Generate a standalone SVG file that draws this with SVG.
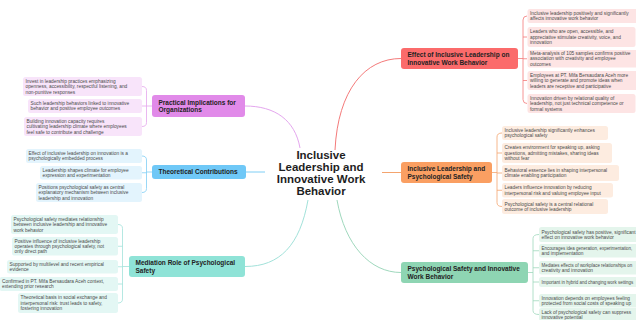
<svg xmlns="http://www.w3.org/2000/svg" width="636" height="320" viewBox="0 0 636 320">
<style>
text{font-family:"Liberation Sans",Arial,sans-serif}
.title{font-size:11.5px;font-weight:bold;fill:#1e1e1e;text-anchor:middle}
.mt{font-size:6.5px;font-weight:bold;fill:#222}
.lt{font-size:4.8px;fill:#4a4a4a}
.sm{font-size:4.45px}
.c{fill:none;stroke-width:1}
.b{fill:none;stroke-width:0.8}
.red{stroke:#f47a7a}.ora{stroke:#f4a46e}.grn{stroke:#9fd8bd}.pur{stroke:#e4a6ee}.blu{stroke:#7fcef5}.tea{stroke:#a2e2da}
.nred{fill:#fb6b6b}.nora{fill:#fa9f62}.ngrn{fill:#8ed5b3}.npur{fill:#e18ae9}.nblu{fill:#6fc8f7}.ntea{fill:#8fe3d7}
.lred{fill:#fde4e4}.lora{fill:#fdece0}.lgrn{fill:#e4f5ec}.lpur{fill:#f8e4fa}.lblu{fill:#e3f4fd}.ltea{fill:#e3f7f4}
</style>
<rect width="636" height="320" fill="#ffffff"/>
<g id="connectors">
<path class="c red" d="M 335 150 C 338 90, 365 58.5, 401 58.5"/>
<path class="c ora" d="M 382 172.5 H 401"/>
<path class="c grn" d="M 337 200 C 345 245, 370 272.5, 401 272.5"/>
<path class="c pur" d="M 300 148 C 295 120, 275 106, 245 106"/>
<path class="c blu" d="M 265 172 H 246"/>
<path class="c tea" d="M 308 200 C 300 245, 280 266.5, 245 266.5"/>
<path class="b red" d="M 518 58.5 H 523 M 527 16 Q 523 16 523 20 V 99.5 Q 523 103.5 527 103.5 M 523 37 H 527 M 523 58.75 H 527 M 523 80.5 H 527"/>
<path class="b ora" d="M 492 172.5 H 497 M 502 133 Q 497 133 497 137 V 202.5 Q 497 206.5 502 206.5 M 497 153 H 502 M 497 173 H 502 M 497 190.25 H 502"/>
<path class="b grn" d="M 528 272.5 H 533 M 539 234.5 Q 533 234.5 533 238.5 V 310.5 Q 533 314.5 539 314.5 M 533 250.75 H 539 M 533 267.75 H 539 M 533 282 H 539 M 533 300.75 H 539"/>
<path class="b pur" d="M 152 106 H 146.5 M 142 86.5 Q 146.5 86.5 146.5 90.5 V 122.5 Q 146.5 126.5 142 126.5 M 146.5 106 H 142"/>
<path class="b blu" d="M 152 172 H 146.5 M 142 156 Q 146.5 156 146.5 160 V 188.5 Q 146.5 192.5 142 192.5 M 146.5 172.75 H 142"/>
<path class="b tea" d="M 129 266.5 H 122.5 M 118 224.5 Q 122.5 224.5 122.5 228.5 V 299 Q 122.5 303 118 303 M 122.5 246.25 H 118 M 122.5 266.75 H 118 M 122.5 284 H 118"/>
</g>
<g id="center">
<text class="title"><tspan x="321" y="159">Inclusive</tspan><tspan x="321" y="171">Leadership and</tspan><tspan x="321" y="183">Innovative Work</tspan><tspan x="321" y="195">Behavior</tspan></text>
</g>
<g id="node-effect">
<rect class="nred" x="401" y="48" width="117" height="21" rx="3"/>
<text class="mt"><tspan x="407.5" y="57.3">Effect of Inclusive Leadership on</tspan><tspan x="407.5" y="64.8">Innovative Work Behavior</tspan></text>
</g>
<g id="node-ilps">
<rect class="nora" x="401" y="162" width="91" height="21" rx="3"/>
<text class="mt"><tspan x="407.5" y="171.3">Inclusive Leadership and</tspan><tspan x="407.5" y="178.8">Psychological Safety</tspan></text>
</g>
<g id="node-psiwb">
<rect class="ngrn" x="401" y="262" width="127" height="21" rx="3"/>
<text class="mt"><tspan x="407.5" y="271.3">Psychological Safety and Innovative</tspan><tspan x="407.5" y="278.8">Work Behavior</tspan></text>
</g>
<g id="node-practical">
<rect class="npur" x="152" y="95" width="93" height="22" rx="3"/>
<text class="mt"><tspan x="158.5" y="104.8">Practical Implications for</tspan><tspan x="158.5" y="112.3">Organizations</tspan></text>
</g>
<g id="node-theory">
<rect class="nblu" x="152" y="165" width="94" height="14" rx="3"/>
<text class="mt" x="158.5" y="174.4">Theoretical Contributions</text>
</g>
<g id="node-mediation">
<rect class="ntea" x="129" y="256" width="116" height="21" rx="3"/>
<text class="mt"><tspan x="135.5" y="265.3">Mediation Role of Psychological</tspan><tspan x="135.5" y="272.8">Safety</tspan></text>
</g>
<g id="leaves-effect">
<rect class="lred" x="527.5" y="9" width="118" height="14" rx="2.5"/>
<text class="lt"><tspan x="530" y="15">Inclusive leadership positively and significantly</tspan><tspan x="530" y="20.4">affects innovative work behavior</tspan></text>
<rect class="lred" x="527.5" y="27" width="108" height="20" rx="2.5"/>
<text class="lt"><tspan x="530" y="33.3">Leaders who are open, accessible, and</tspan><tspan x="530" y="38.7">appreciative stimulate creativity, voice, and</tspan><tspan x="530" y="44.1">innovation</tspan></text>
<rect class="lred" x="527.5" y="50" width="118" height="17.5" rx="2.5"/>
<text class="lt"><tspan x="530" y="55.05">Meta-analysis of 105 samples confirms positive</tspan><tspan x="530" y="60.45">association with creativity and employee</tspan><tspan x="530" y="65.85">outcomes</tspan></text>
<rect class="lred" x="527.5" y="71" width="112" height="19" rx="2.5"/>
<text class="lt"><tspan x="530" y="76.8">Employees at PT. Mifa Bersaudara Aceh more</tspan><tspan x="530" y="82.2">willing to generate and promote ideas when</tspan><tspan x="530" y="87.6">leaders are receptive and participative</tspan></text>
<rect class="lred" x="527.5" y="94" width="108" height="19" rx="2.5"/>
<text class="lt"><tspan x="530" y="99.8">Innovation driven by relational quality of</tspan><tspan x="530" y="105.2">leadership, not just technical competence or</tspan><tspan x="530" y="110.6">formal systems</tspan></text>
</g>
<g id="leaves-ilps">
<rect class="lora" x="502" y="126" width="106" height="14" rx="2.5"/>
<text class="lt"><tspan x="504.5" y="132">Inclusive leadership significantly enhances</tspan><tspan x="504.5" y="137.4">psychological safety</tspan></text>
<rect class="lora" x="502" y="143" width="110" height="20" rx="2.5"/>
<text class="lt"><tspan x="504.5" y="149.3">Creates environment for speaking up, asking</tspan><tspan x="504.5" y="154.7">questions, admitting mistakes, sharing ideas</tspan><tspan x="504.5" y="160.1">without fear</tspan></text>
<rect class="lora" x="502" y="165" width="117" height="16" rx="2.5"/>
<text class="lt"><tspan x="504.5" y="172">Behavioral essence lies in shaping interpersonal</tspan><tspan x="504.5" y="177.4">climate enabling participation</tspan></text>
<rect class="lora" x="502" y="183" width="111" height="14.5" rx="2.5"/>
<text class="lt"><tspan x="504.5" y="189.25">Leaders influence innovation by reducing</tspan><tspan x="504.5" y="194.65">interpersonal risk and valuing employee input</tspan></text>
<rect class="lora" x="502" y="199" width="106" height="15" rx="2.5"/>
<text class="lt"><tspan x="504.5" y="205.5">Psychological safety is a central relational</tspan><tspan x="504.5" y="210.9">outcome of inclusive leadership</tspan></text>
</g>
<g id="leaves-psiwb">
<rect class="lgrn" x="539" y="227" width="110" height="15" rx="2.5"/>
<text class="lt"><tspan x="541.5" y="233.5">Psychological safety has positive, significant</tspan><tspan x="541.5" y="238.9">effect on innovative work behavior</tspan></text>
<rect class="lgrn" x="539" y="244" width="110" height="13.5" rx="2.5"/>
<text class="lt"><tspan class="sm" x="541.5" y="249.75">Encourages idea generation, experimentation,</tspan><tspan x="541.5" y="255.15">and implementation</tspan></text>
<rect class="lgrn" x="539" y="261" width="110" height="13.5" rx="2.5"/>
<text class="lt"><tspan class="sm" x="541.5" y="266.75">Mediates effects of workplace relationships on</tspan><tspan x="541.5" y="272.15">creativity and innovation</tspan></text>
<rect class="lgrn" x="539" y="277" width="110" height="10" rx="2.5"/>
<text class="lt sm" x="541.5" y="283.7">Important in hybrid and changing work settings</text>
<rect class="lgrn" x="539" y="294" width="110" height="13.5" rx="2.5"/>
<text class="lt"><tspan x="541.5" y="299.75">Innovation depends on employees feeling</tspan><tspan x="541.5" y="305.15">protected from social costs of speaking up</tspan></text>
<rect class="lgrn" x="539" y="308" width="110" height="13" rx="2.5"/>
<text class="lt"><tspan x="541.5" y="313.5">Lack of psychological safety can suppress</tspan><tspan x="541.5" y="318.9">innovative potential</tspan></text>
</g>
<g id="leaves-practical">
<rect class="lpur" x="23" y="77" width="119" height="19" rx="2.5"/>
<text class="lt"><tspan x="25.5" y="82.8">Invest in leadership practices emphasizing</tspan><tspan x="25.5" y="88.2">openness, accessibility, respectful listening, and</tspan><tspan x="25.5" y="93.6">non-punitive responses</tspan></text>
<rect class="lpur" x="28" y="99" width="114" height="14" rx="2.5"/>
<text class="lt"><tspan x="30.5" y="105">Such leadership behaviors linked to innovative</tspan><tspan x="30.5" y="110.4">behavior and positive employee outcomes</tspan></text>
<rect class="lpur" x="24" y="117" width="118" height="19" rx="2.5"/>
<text class="lt"><tspan x="26.5" y="122.8">Building innovation capacity requires</tspan><tspan x="26.5" y="128.2">cultivating leadership climate where employees</tspan><tspan x="26.5" y="133.6">feel safe to contribute and challenge</tspan></text>
</g>
<g id="leaves-theory">
<rect class="lblu" x="26" y="149" width="116" height="14" rx="2.5"/>
<text class="lt"><tspan x="28.5" y="155">Effect of inclusive leadership on innovation is a</tspan><tspan x="28.5" y="160.4">psychologically embedded process</tspan></text>
<rect class="lblu" x="40" y="166" width="102" height="13.5" rx="2.5"/>
<text class="lt"><tspan x="42.5" y="171.75">Leadership shapes climate for employee</tspan><tspan x="42.5" y="177.15">expression and experimentation</tspan></text>
<rect class="lblu" x="36" y="183" width="106" height="19" rx="2.5"/>
<text class="lt"><tspan x="38.5" y="188.8">Positions psychological safety as central</tspan><tspan x="38.5" y="194.2">explanatory mechanism between inclusive</tspan><tspan x="38.5" y="199.6">leadership and innovation</tspan></text>
</g>
<g id="leaves-mediation">
<rect class="ltea" x="11" y="215" width="107" height="19" rx="2.5"/>
<text class="lt"><tspan x="13.5" y="220.8">Psychological safety mediates relationship</tspan><tspan x="13.5" y="226.2">between inclusive leadership and innovative</tspan><tspan x="13.5" y="231.6">work behavior</tspan></text>
<rect class="ltea" x="12" y="237" width="106" height="18.5" rx="2.5"/>
<text class="lt"><tspan x="14.5" y="242.55">Positive influence of inclusive leadership</tspan><tspan x="14.5" y="247.95">operates through psychological safety, not</tspan><tspan x="14.5" y="253.35">only direct path</tspan></text>
<rect class="ltea" x="7" y="260" width="111" height="13.5" rx="2.5"/>
<text class="lt"><tspan x="9.5" y="265.75">Supported by multilevel and recent empirical</tspan><tspan x="9.5" y="271.15">evidence</tspan></text>
<rect class="ltea" x="-0.5" y="277" width="118.5" height="14" rx="2.5"/>
<text class="lt"><tspan x="2" y="283">Confirmed in PT. Mifa Bersaudara Aceh context,</tspan><tspan x="2" y="288.4">extending prior research</tspan></text>
<rect class="ltea" x="18" y="293" width="100" height="20" rx="2.5"/>
<text class="lt"><tspan x="20.5" y="299.3">Theoretical basis in social exchange and</tspan><tspan x="20.5" y="304.7">interpersonal risk: trust leads to safety,</tspan><tspan x="20.5" y="310.1">fostering innovation</tspan></text>
</g>
</svg>
